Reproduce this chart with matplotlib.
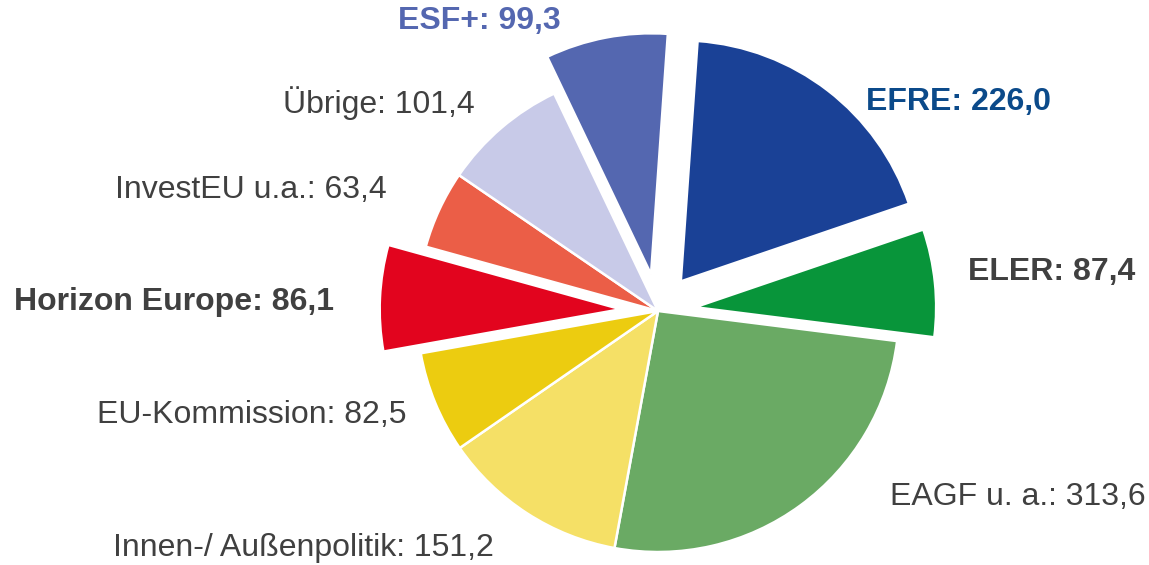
import matplotlib
matplotlib.use("Agg")
import matplotlib.pyplot as plt

plt.rcParams['font.family'] = ['Liberation Sans', 'DejaVu Sans']

# Data (billions EUR)
categories = ["EFRE", "ELER", "EAGF u. a.", "Innen-/ Außenpolitik", "EU-Kommission",
              "Horizon Europe", "InvestEU u.a.", "Übrige", "ESF+"]
values = [226.0, 87.4, 313.6, 151.2, 82.5, 86.1, 63.4, 101.4, 99.3]
value_labels = ["226,0", "87,4", "313,6", "151,2", "82,5", "86,1", "63,4", "101,4", "99,3"]
exploded = [True, True, False, False, False, True, False, False, True]

# Styling
colors = ["#1a4196", "#08953a", "#6aaa64", "#f5e066", "#eccc10",
          "#e2041e", "#eb5e47", "#c8cae8", "#5467b0"]
label_colors = ["#0b4a8a", "#404040", "#404040", "#404040", "#404040",
                "#404040", "#404040", "#404040", "#5467b0"]
label_bold = [True, True, False, False, False, True, False, False, True]
# label anchor positions in pixels (left x, center y)
label_pos = [(866, 102), (968, 272), (890, 497), (113, 548), (97, 415),
             (14, 302), (115, 190), (283, 103), (398, 21)]

W, H = 1149, 565
cx, cy, R = 658, 311, 241

fig = plt.figure(figsize=(W / 100, H / 100), dpi=100)
ax = fig.add_axes([0, 0, 1, 1])
ax.pie(values, colors=colors, startangle=86, counterclock=False,
       explode=[0.155 if e else 0 for e in exploded], radius=1,
       wedgeprops=dict(edgecolor="white", linewidth=1.8))
ax.set_aspect('auto')
ax.set_xlim(-cx / R, (W - cx) / R)
ax.set_ylim(-(H - cy) / R, cy / R)
ax.axis('off')

for cat, vl, col, b, (px, py) in zip(categories, value_labels, label_colors, label_bold, label_pos):
    fig.text(px / W, 1 - py / H, f"{cat}: {vl}", color=col, fontsize=23,
             fontweight='bold' if b else 'normal', ha='left', va='center')

fig.savefig("out.png", dpi=100)
